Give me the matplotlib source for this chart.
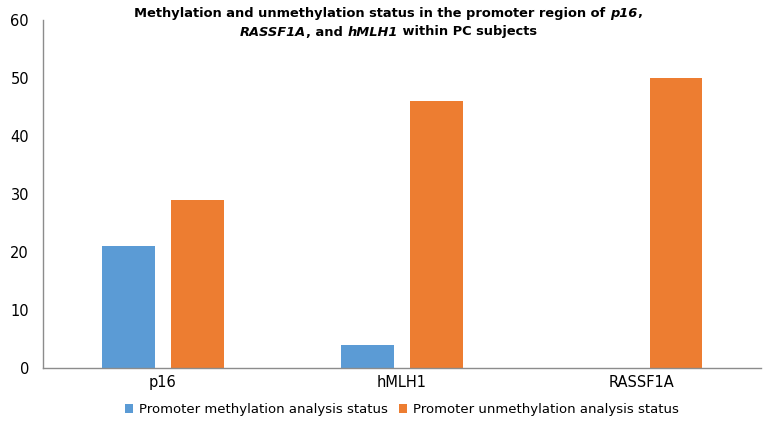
import matplotlib.pyplot as plt
import numpy as np

# data
genes = ['p16', 'hMLH1', 'RASSF1A']
methylated = [21, 4, 0]
unmethylated = [29, 46, 50]
series_names = ['Promoter methylation analysis status',
                'Promoter unmethylation analysis status']

plt.rcParams['font.family'] = ['DejaVu Sans']

fig = plt.figure(figsize=(7.64, 4.25), dpi=100)
ax = fig.add_axes([0.0563, 0.134, 0.94, 0.819])

x = np.arange(len(genes))
w = 0.22
ax.bar(x - 0.144, methylated, w, color='#5B9BD5', label=series_names[0])
ax.bar(x + 0.144, unmethylated, w, color='#ED7D31', label=series_names[1])

ax.set_xlim(-0.5, len(genes) - 0.5)
ax.set_ylim(0, 60)
ax.set_yticks(range(0, 61, 10))
ax.set_xticks(x)
ax.set_xticklabels(genes, fontsize=10.5)
ax.tick_params(axis='y', labelsize=10.5, length=0, pad=10)
ax.tick_params(axis='x', length=0, pad=5)
for s in ['top', 'right']:
    ax.spines[s].set_visible(False)
for s in ['left', 'bottom']:
    ax.spines[s].set_color('#8c8c8c')
    ax.spines[s].set_linewidth(1)

ax.legend(loc='center', bbox_to_anchor=(0.5, -0.12), ncol=2, frameon=False,
          fontsize=9.5, handlelength=0.6, handleheight=0.6, columnspacing=0.8,
          handletextpad=0.5)

# title with italic gene names, drawn piece by piece and centred
def title_line(parts, y):
    fig.canvas.draw()
    r = fig.canvas.get_renderer()
    texts = []
    xpos = 0
    for txt, style in parts:
        t = fig.text(xpos, y, txt, fontsize=9.4, fontweight='bold', style=style,
                     va='center', ha='left')
        bb = t.get_window_extent(renderer=r)
        xpos += bb.width / fig.bbox.width
        texts.append(t)
    start = 0.508 - xpos / 2
    off = start
    for t in texts:
        bb = t.get_window_extent(renderer=r)
        t.set_x(off)
        off += bb.width / fig.bbox.width

title_line([('Methylation and unmethylation status in the promoter region of ', 'normal'),
            ('p16', 'italic'), (',', 'normal')], 1 - 13 / 425)
title_line([('RASSF1A', 'italic'), (', and ', 'normal'), ('hMLH1', 'italic'),
            (' within PC subjects', 'normal')], 1 - 32 / 425)

fig.savefig('out.png', dpi=100)
